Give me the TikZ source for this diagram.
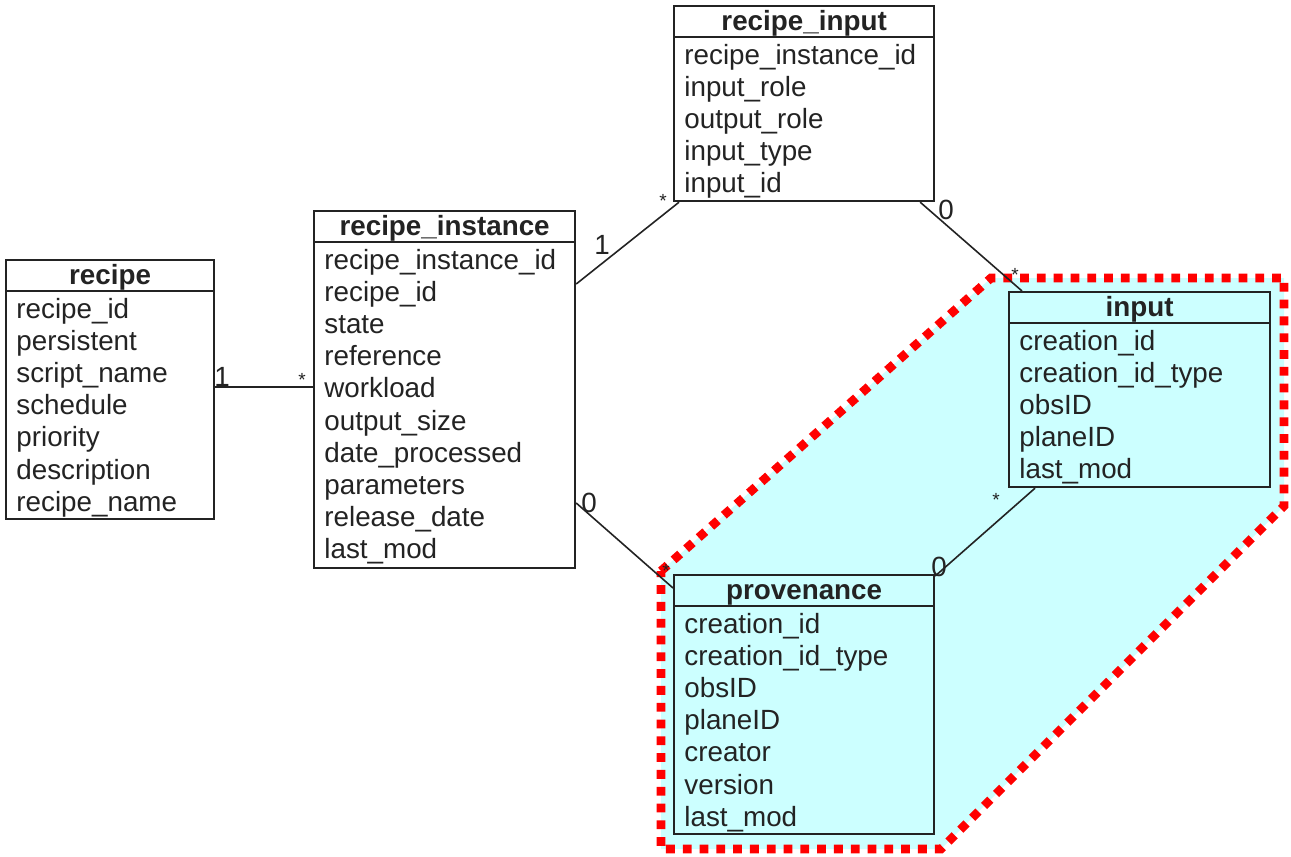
\documentclass[tikz,border=0pt]{standalone}
\usepackage{fontspec}
\setmainfont{Liberation Sans}
\usetikzlibrary{calc}

\definecolor{regionfill}{RGB}{204,255,255}
\definecolor{regionedge}{RGB}{255,0,0}
\definecolor{ink}{RGB}{35,35,35}

\tikzset{
  entity/.style={draw=ink, line width=1.1pt, rectangle, inner sep=0pt, anchor=north west},
  divider/.style={draw=ink, line width=1.1pt},
  title/.style={font=\fontsize{13.9}{16}\selectfont\bfseries, text=ink, anchor=base, inner sep=0pt},
  field/.style={font=\fontsize{13.9}{16}\selectfont, text=ink, anchor=base west, inner sep=0pt},
  link/.style={draw=ink, line width=0.8pt},
  mult/.style={font=\fontsize{13.9}{16}\selectfont, text=ink, inner sep=0pt},
  many/.style={font=\fontsize{9.5}{10}\selectfont, text=ink, inner sep=0pt},
  region/.style={fill=regionfill, draw=regionedge, line width=4.4pt, dash pattern=on 4.4pt off 4pt},
}

% #1 name, #2 x, #3 y (top left), #4 width, #5 height, #6 fill, #7 title, #8 fields
\newcommand\erentity[8]{%
  \node[entity, fill=#6, minimum width=#4*0.5pt, minimum height=#5*0.5pt] (#1) at (#2,#3) {};
  \draw[divider] ($(#1.north west)+(0,32)$) -- ($(#1.north east)+(0,32)$);
  \node[title] (#1-title) at ($(#1.north)+(0,25)$) {#7};
  \foreach \f [count=\i] in {#8}
    \node[field] (#1-\i) at ($(#1.north west)+(11,{59+32.2*(\i-1)})$) {\f};
}

\begin{document}
\begin{tikzpicture}[x=0.5pt,y=-0.5pt]
  \useasboundingbox (0,0) rectangle (1291,857);

  % highlighted area around input and provenance
  \path[region] (661,571) -- (991,278) -- (1284,278) -- (1284,506) -- (941,849) -- (661,849) -- cycle;

  \erentity{recipe}{5}{259}{208}{259}{white}{recipe}%
    {recipe\_id,persistent,script\_name,schedule,priority,description,recipe\_name}
  \erentity{rinst}{313}{210}{261}{357}{white}{recipe\_instance}%
    {recipe\_instance\_id,recipe\_id,state,reference,workload,output\_size,date\_processed,parameters,release\_date,last\_mod}
  \erentity{rinput}{673}{5}{260}{195}{white}{recipe\_input}%
    {recipe\_instance\_id,input\_role,output\_role,input\_type,input\_id}
  \erentity{input}{1008}{291}{261}{195}{regionfill}{input}%
    {creation\_id,creation\_id\_type,obsID,planeID,last\_mod}
  \erentity{prov}{673}{574}{260}{259}{regionfill}{provenance}%
    {creation\_id,creation\_id\_type,obsID,planeID,creator,version,last\_mod}

  % relationships
  \draw[link] (recipe.east |- 0,387) -- (rinst.west |- 0,387);
  \draw[link] (rinst.east |- 0,284) -- ([xshift=3pt]rinput.south west);
  \draw[link] ([xshift=-7.5pt]rinput.south east) -- ([xshift=7pt]input.north west);
  \draw[link] (rinst.east |- 0,503) -- (prov.west |- 0,588);
  \draw[link] ([xshift=13.5pt]input.south west) -- ([yshift=-1pt]prov.north east);

  % multiplicities
  \node[mult] (m1) at (222,377) {1};
  \node[many] (m2) at (302,380) {*};
  \node[mult] (m3) at (602,245) {1};
  \node[many] (m4) at (663,201) {*};
  \node[mult] (m5) at (946,210) {0};
  \node[many] (m6) at (1015,275) {*};
  \node[mult] (m7) at (589,503) {0};
  \node[many] (m8) at (666,571) {*};
  \node[mult] (m9) at (939,567) {0};
  \node[many] (m10) at (996,500) {*};
\end{tikzpicture}
\end{document}
